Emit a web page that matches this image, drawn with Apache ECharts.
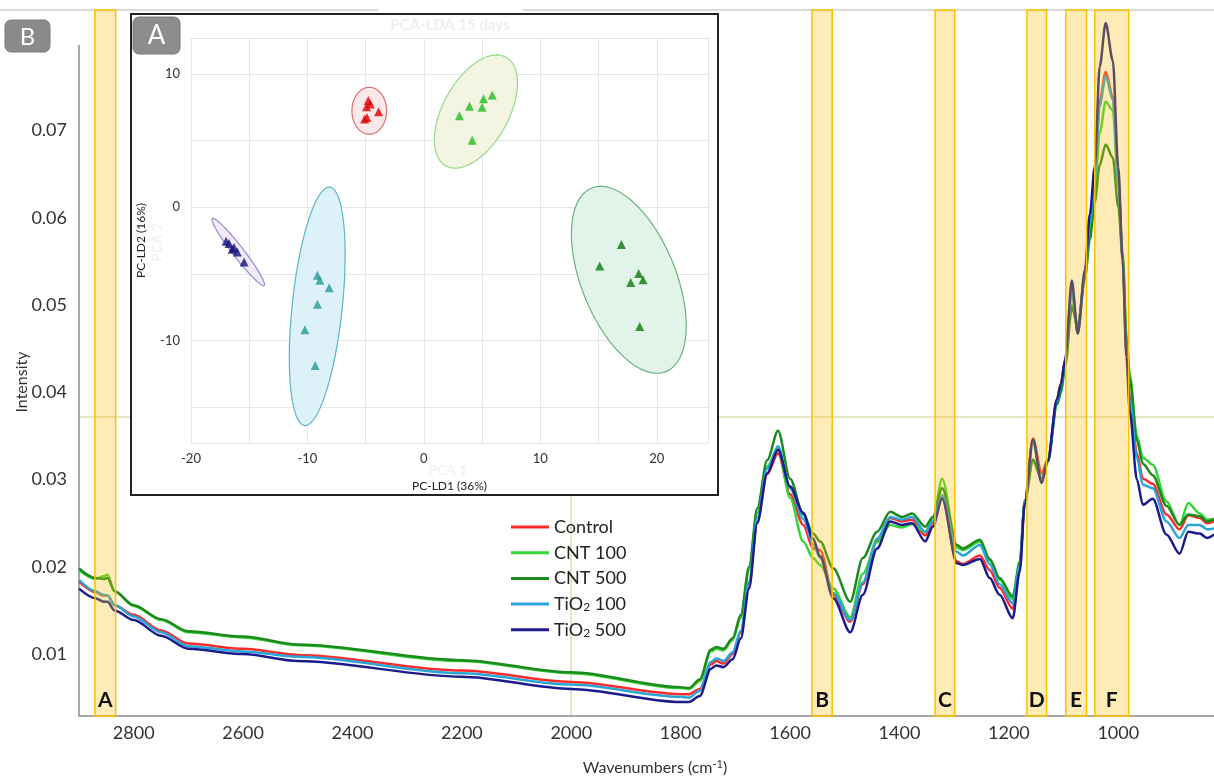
<!DOCTYPE html>
<html>
<head>
<meta charset="utf-8">
<title>FTIR spectra and PCA-LDA inset</title>
<script src="https://cdn.jsdelivr.net/npm/echarts@6.0.0/dist/echarts.min.js"></script>
<style>
  html, body { margin: 0; padding: 0; background: #fff; }
  #main { width: 1214px; height: 780px; }
</style>
</head>
<body>
<div id="main"></div>
<script>
// spectra
var wavenumbers = [2900, 2870, 2855, 2848, 2835, 2800, 2750, 2700, 2600, 2500, 2200, 2000, 1800,
    1785, 1765, 1745, 1735, 1722, 1705, 1690, 1675, 1660, 1642, 1622, 1600, 1576, 1558, 1545, 1521,
    1490, 1467, 1441, 1417, 1396, 1377, 1353, 1339, 1322, 1295, 1284, 1253, 1235, 1217, 1193, 1180,
    1171, 1156, 1140, 1129, 1112, 1105, 1097, 1085, 1074, 1061, 1052, 1043, 1034, 1023, 1010, 1000,
    992, 985, 979, 966, 955, 937, 912, 888, 872, 851, 838, 825];

var control = [.0183, .0171, .0167, .0167, .0156, .0145, .0127, .0112, .0106, .0099, .0081, .0068, .0054,
    .0054, .0060, .0088, .0092, .0089, .0100, .0125, .0180, .0252, .0306, .0330, .0283, .0248, .0221, .0219, .0168,
    .0137, .0180, .0230, .0256, .0252, .0254, .0236, .0250, .0280, .0206, .0203, .0213, .0196, .0176, .0152, .0200,
    .0276, .0347, .0307, .0323, .0392, .0410, .0437, .0518, .0469, .0536, .0595, .0645, .0734, .0767, .0739, .0645,
    .0552, .0447, .0395, .0330, .0301, .0295, .0260, .0243, .0259, .0256, .0250, .0252];

var cnt100 = [.0196, .0186, .0189, .0191, .0172, .0155, .0139, .0125, .0119, .0110, .0092, .0078, .0061,
    .0060, .0069, .0103, .0106, .0104, .0116, .0142, .0196, .0262, .0315, .0335, .0279, .0229, .0210, .0202, .0175,
    .0142, .0192, .0228, .0248, .0245, .0249, .0240, .0254, .0301, .0222, .0219, .0229, .0207, .0185, .0163, .0204,
    .0274, .0321, .0300, .0320, .0386, .0400, .0432, .0500, .0476, .0532, .0585, .0630, .0697, .0733, .0723, .0640,
    .0560, .0465, .0420, .0350, .0325, .0317, .0275, .0248, .0273, .0261, .0254, .0255];

var cnt500 = [.0198, .0187, .0186, .0187, .0172, .0156, .0140, .0126, .0120, .0111, .0093, .0079, .0062,
    .0061, .0071, .0105, .0108, .0106, .0118, .0145, .0200, .0267, .0322, .0356, .0301, .0260, .0238, .0229, .0198,
    .0160, .0210, .0240, .0263, .0257, .0261, .0246, .0257, .0290, .0225, .0221, .0231, .0209, .0187, .0166, .0206,
    .0275, .0323, .0301, .0321, .0386, .0399, .0430, .0497, .0476, .0530, .0575, .0618, .0660, .0684, .0669, .0612,
    .0556, .0460, .0416, .0345, .0318, .0305, .0270, .0248, .0260, .0258, .0252, .0254];

var tio2100 = [.0185, .0172, .0168, .0167, .0156, .0143, .0125, .0109, .0103, .0097, .0078, .0065, .0051,
    .0050, .0058, .0091, .0095, .0092, .0102, .0127, .0183, .0256, .0312, .0338, .0290, .0255, .0226, .0210, .0170,
    .0139, .0182, .0232, .0257, .0254, .0257, .0240, .0252, .0282, .0217, .0213, .0225, .0203, .0180, .0158, .0202,
    .0275, .0342, .0298, .0321, .0390, .0407, .0436, .0516, .0468, .0537, .0595, .0643, .0728, .0762, .0735, .0640,
    .0550, .0445, .0390, .0325, .0294, .0290, .0252, .0233, .0248, .0248, .0243, .0244];

var tio2500 = [.0175, .0164, .0160, .0160, .0150, .0139, .0121, .0106, .0100, .0092, .0074, .0060, .0045,
    .0045, .0052, .0083, .0087, .0085, .0094, .0118, .0175, .0250, .0307, .0334, .0292, .0262, .0232, .0212, .0164,
    .0125, .0168, .0221, .0252, .0248, .0250, .0229, .0246, .0278, .0204, .0202, .0209, .0187, .0168, .0141, .0195,
    .0272, .0346, .0296, .0321, .0392, .0409, .0438, .0528, .0467, .0540, .0604, .0658, .0773, .0823, .0780, .0658,
    .0551, .0440, .0378, .0300, .0271, .0278, .0237, .0215, .0240, .0238, .0233, .0237];

var seriesNames = ['Control', 'CNT 100', 'CNT 500', 'TiO2 100', 'TiO2 500'];
var spectra = [control, cnt100, cnt500, tio2100, tio2500];
var lineColors = ['#ff2b2b', '#33d633', '#1d8a1d', '#2aa5d8', '#1b1b8c'];

// highlighted bands
var bandNames = ['A', 'B', 'C', 'D', 'E', 'F'];
var bandFrom = [2871, 1560, 1335, 1167, 1096, 1043];
var bandTo = [2833, 1523, 1299, 1131, 1058, 981];

// PCA-LDA scores (inset)
var ldaX = [
    [-4.77, -4.92, -3.89, -4.89, -5.09, -4.60],
    [5.87, 5.12, 3.91, 5.00, 3.05, 4.15],
    [15.10, 18.45, 17.76, 18.82, 18.54, 16.96],
    [-9.14, -8.93, -8.13, -9.14, -10.22, -9.33],
    [-16.73, -16.30, -16.02, -15.44, -16.99, -16.47]
];
var ldaY = [
    [8.00, 7.54, 7.17, 6.74, 6.62, 7.74],
    [8.42, 8.14, 7.57, 7.50, 6.87, 5.02],
    [-4.41, -4.98, -5.66, -5.44, -8.95, -2.80],
    [-5.11, -5.49, -6.04, -7.29, -9.20, -11.88],
    [-2.73, -3.03, -3.36, -4.11, -2.56, -3.16]
];
// confidence ellipses: centre and two semi-axis vectors
var ellCx = [-4.69, 4.47, 17.60, -9.16, -15.94];
var ellCy = [7.24, 7.18, -5.45, -7.44, -3.36];
var ellU = [[0, 1.76], [2.58, 4.08], [3.19, -6.89], [1.08, 8.95], [-2.22, 2.51]];
var ellV = [[1.49, 0], [2.47, -1.19], [3.76, 1.33], [2.14, -0.20], [0.374, 0.253]];

var dotColors = ['#e00000', '#22bb22', '#0b7a0b', '#2a9a9a', '#10107a'];
var ellFill = ['#fbe9e9', '#f4f4e2', '#e2f4ea', '#dcf1f8', '#f2eaf9'];
var ellStroke = ['#e07070', '#9ad88a', '#6cb37e', '#5db5c8', '#9a88cc'];

var FONT = 'Lato, "Open Sans", sans-serif';

var myChart = echarts.init(document.getElementById('main'));

var series = [];
seriesNames.forEach(function (name, i) {
    var s = {
        name: name,
        type: 'line',
        xAxisIndex: 0,
        yAxisIndex: 0,
        data: wavenumbers.map(function (w, k) { return [w, spectra[i][k]]; }),
        smooth: 0.3,
        smoothMonotone: 'x',
        showSymbol: false,
        lineStyle: { width: 2.5, color: lineColors[i] },
        itemStyle: { color: lineColors[i] },
        z: 2
    };
    if (i == seriesNames.length - 1) {
        s.markArea = {
            silent: true,
            z: 10,
            itemStyle: { color: 'rgba(255,190,10,0.3)', borderColor: '#ffc000', borderWidth: 1.5 },
            label: {
                position: 'insideBottom', distance: 6, color: '#111',
                fontFamily: FONT, fontSize: 21, fontWeight: 'bold'
            },
            data: bandNames.map(function (b, k) {
                return [{ name: b, xAxis: bandFrom[k] }, { xAxis: bandTo[k] }];
            })
        };
    }
    series.push(s);
});

// ellipses
series.push({
    name: 'ellipses',
    type: 'custom',
    xAxisIndex: 1,
    yAxisIndex: 1,
    silent: true,
    z: 3,
    data: ellCx.map(function (x, i) { return [x, ellCy[i]]; }),
    renderItem: function (params, api) {
        var i = params.dataIndex;
        var pts = [];
        for (var k = 0; k < 90; k++) {
            var t = k / 90 * Math.PI * 2;
            var c = Math.cos(t), s = Math.sin(t);
            pts.push(api.coord([ellCx[i] + ellU[i][0] * c + ellV[i][0] * s,
                                ellCy[i] + ellU[i][1] * c + ellV[i][1] * s]));
        }
        return {
            type: 'polygon',
            shape: { points: pts },
            style: { fill: ellFill[i], stroke: ellStroke[i], lineWidth: 1.2 }
        };
    }
});

seriesNames.forEach(function (name, i) {
    series.push({
        name: name + ' (LDA)',
        type: 'scatter',
        xAxisIndex: 1,
        yAxisIndex: 1,
        symbol: 'triangle',
        symbolSize: 9,
        itemStyle: { color: dotColors[i] },
        data: ldaX[i].map(function (x, k) { return [x, ldaY[i][k]]; }),
        z: 4
    });
});

var isMult = function (v, step) {
    return Math.abs(v / step - Math.round(v / step)) < 1e-6;
};

option = {
    animation: false,
    backgroundColor: '#fff',
    legend: {
        data: seriesNames,
        orient: 'vertical',
        left: 506,
        top: 513,
        itemWidth: 38,
        itemHeight: 3,
        itemGap: 7.7,
        icon: 'rect',
        selectedMode: false,
        formatter: function (name) {
            if (name.indexOf('TiO2') === 0) {
                return '{n|TiO}{s|2}{n|' + name.slice(4) + '}';
            }
            return '{n|' + name + '}';
        },
        textStyle: {
            rich: {
                n: { fontFamily: FONT, fontSize: 18, color: '#222', lineHeight: 22 },
                s: { fontFamily: FONT, fontSize: 12, color: '#222', lineHeight: 16, padding: [6, 0, 0, 0] }
            }
        }
    },
    grid: [
        { left: 79, right: 0, top: 10, bottom: 64, outerBoundsMode: 'none' },
        { left: 191, top: 38, width: 517, height: 405, outerBoundsMode: 'none' }
    ],
    xAxis: [{
        type: 'value',
        gridIndex: 0,
        inverse: true,
        min: 825,
        max: 2900,
        splitNumber: 10,
        axisLine: { show: true, onZero: false, lineStyle: { color: '#8c8c8c', width: 1.5 } },
        axisTick: { show: false },
        splitLine: { show: false },
        axisLabel: {
            fontFamily: FONT, fontSize: 18, color: '#333', margin: 8,
            formatter: function (v) {
                return (isMult(v, 200) && v >= 1000 && v <= 2800) ? String(v) : '';
            }
        }
    }, {
        type: 'value',
        gridIndex: 1,
        min: -20,
        max: 24.4,
        interval: 5,
        axisLine: { show: false },
        axisTick: { show: false },
        splitLine: { show: true, lineStyle: { color: '#e6e6e6', width: 1 } },
        name: 'PC-LD1 (36%)',
        nameLocation: 'middle',
        nameGap: 37,
        nameTextStyle: { fontFamily: FONT, fontSize: 12, color: '#222' },
        axisLabel: {
            fontFamily: FONT, fontSize: 13, color: '#333', margin: 9,
            formatter: function (v) {
                return (isMult(v, 10) && v <= 20) ? String(v) : '';
            }
        }
    }],
    yAxis: [{
        type: 'value',
        gridIndex: 0,
        min: 0.0029,
        max: 0.0838,
        splitNumber: 8,
        axisLine: { show: false },
        axisTick: { show: false },
        splitLine: { show: false },
        axisLabel: {
            fontFamily: FONT, fontSize: 18, color: '#333', margin: 12,
            formatter: function (v) {
                return (isMult(v, 0.01) && v > 0.005 && v < 0.075) ? v.toFixed(2) : '';
            }
        }
    }, {
        type: 'value',
        gridIndex: 1,
        min: -17.7,
        max: 12.7,
        splitNumber: 6,
        axisLine: { show: false },
        axisTick: { show: false },
        splitLine: { show: true, lineStyle: { color: '#e6e6e6', width: 1 } },
        name: 'PC-LD2 (16%)',
        nameLocation: 'middle',
        nameGap: 44,
        nameTextStyle: { fontFamily: FONT, fontSize: 12, color: '#222' },
        axisLabel: {
            fontFamily: FONT, fontSize: 13, color: '#333', margin: 11,
            formatter: function (v) {
                return (isMult(v, 10) && v >= -10 && v <= 10) ? String(v) : '';
            }
        }
    }],
    graphic: [
        // faint guide lines left in the source image
        { type: 'line', z: -20, shape: { x1: 80, y1: 417, x2: 1214, y2: 417 }, style: { stroke: '#e6e6c4', lineWidth: 2 } },
        { type: 'line', z: -20, shape: { x1: 571, y1: 480, x2: 571, y2: 716 }, style: { stroke: '#e6e6c4', lineWidth: 2 } },
        { type: 'line', z: -20, shape: { x1: 0, y1: 10, x2: 378, y2: 10 }, style: { stroke: '#cfcfcf', lineWidth: 1.5 } },
        { type: 'line', z: -20, shape: { x1: 523, y1: 10, x2: 1214, y2: 10 }, style: { stroke: '#cfcfcf', lineWidth: 1.5 } },
        { type: 'line', z: -20, shape: { x1: 79, y1: 45, x2: 79, y2: 716 }, style: { stroke: '#8c8c8c', lineWidth: 1.5 } },
        // inset frame
        { type: 'rect', z: -10, shape: { x: 131, y: 14, width: 587, height: 481 }, style: { fill: '#fff', stroke: '#222', lineWidth: 2 } },
        { type: 'text', z: 50, x: 450, y: 25, style: { text: 'PCA-LDA 15 days', fill: '#efefef', font: 'bold 15px ' + FONT, align: 'center', verticalAlign: 'middle' } },
        { type: 'text', z: 50, x: 448, y: 470, style: { text: 'PCA 1', fill: '#efefef', font: '14px ' + FONT, align: 'center', verticalAlign: 'middle' } },
        { type: 'text', z: 50, x: 157, y: 242, rotation: Math.PI / 2, style: { text: 'PCA 2', fill: '#efefef', font: '14px ' + FONT, align: 'center', verticalAlign: 'middle' } },
        // panel badges
        { type: 'rect', z: 60, shape: { x: 5, y: 20, width: 45, height: 32, r: 6 }, style: { fill: '#8a8a8a', stroke: '#7a7a7a', lineWidth: 1 } },
        { type: 'text', z: 61, x: 27.5, y: 37, style: { text: 'B', fill: '#fff', font: '24px ' + FONT, align: 'center', verticalAlign: 'middle' } },
        { type: 'rect', z: 60, shape: { x: 133, y: 17, width: 47, height: 37, r: 6 }, style: { fill: '#8c8c8c', stroke: '#7a7a7a', lineWidth: 1 } },
        { type: 'text', z: 61, x: 156.5, y: 36, style: { text: 'A', fill: '#fff', font: '26px ' + FONT, align: 'center', verticalAlign: 'middle' } },
        // axis titles of the spectra
        {
            type: 'text', z: 50, x: 655, y: 768,
            style: {
                text: '{a|Wavenumbers (cm}{b|-1}{a|)}',
                align: 'center', verticalAlign: 'middle',
                rich: {
                    a: { fontFamily: FONT, fontSize: 16, fill: '#333', lineHeight: 20 },
                    b: { fontFamily: FONT, fontSize: 11, fill: '#333', lineHeight: 20, padding: [0, 0, 8, 0] }
                }
            }
        },
        { type: 'text', z: 50, x: 22, y: 382, rotation: Math.PI / 2, style: { text: 'Intensity', fill: '#333', font: '16px ' + FONT, align: 'center', verticalAlign: 'middle' } }
    ],
    series: series
};

myChart.setOption(option);
</script>
</body>
</html>
